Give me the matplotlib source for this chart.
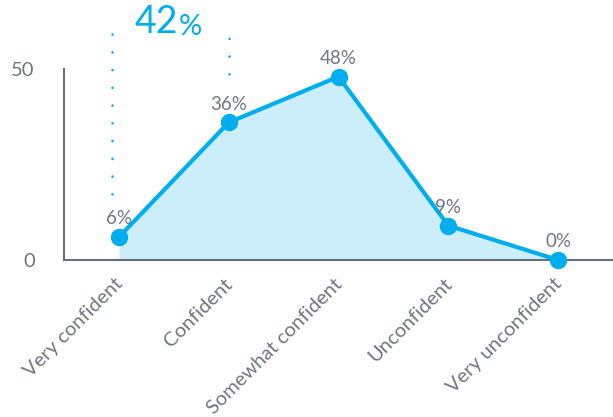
import matplotlib
matplotlib.use("Agg")
import matplotlib.pyplot as plt
import matplotlib.transforms as mtransforms

plt.rcParams['font.family'] = ['Lato', 'DejaVu Sans']

categories = ["Very confident", "Confident", "Somewhat confident", "Unconfident", "Very unconfident"]
values = [6, 36, 48, 9, 0]
total_top_two = values[0] + values[1]

blue = "#00aeef"
fill_blue = "#cbeefa"
gray_text = "#6f7682"
axis_gray = "#6b717b"

fig = plt.figure(figsize=(6.13, 4.17), dpi=100)
ax = fig.add_axes([64 / 613, 1 - 260 / 417, 1 - 64 / 613, (260 - 69) / 417])

x = list(range(len(categories)))
ax.fill_between(x, values, 0, color=fill_blue, linewidth=0, zorder=1)
ax.plot(x, values, color=blue, linewidth=3, marker='o', markersize=11.5,
        zorder=3, clip_on=False, solid_capstyle='round')

for xi, v in zip(x, values):
    ax.annotate(f"{v}%", (xi, v), xytext=(0, 7), textcoords='offset points',
                ha='center', va='bottom', fontsize=13.5, color=gray_text, zorder=4)

# bracket for the top two answers
dots = (0, (0.1, 7))
ax.plot([-0.066, -0.066], [17.3, 61], color=blue, linewidth=1.8,
        linestyle=dots, dash_capstyle='round', clip_on=False)
ax.plot([1, 1], [48.7, 62], color=blue, linewidth=1.8,
        linestyle=dots, dash_capstyle='round', clip_on=False)
t = ax.text(0.536, 59.5, f"{total_top_two}", ha='right', va='baseline', fontsize=27,
            color=blue, clip_on=False)
ax.annotate("%", xy=(1, 0), xycoords=t, xytext=(1, 0), textcoords='offset points',
            ha='left', va='bottom', fontsize=21, color=blue)

ax.set_xlim(-0.5, 4.5)
ax.set_ylim(0, 50)
ax.set_yticks([0, 50])
ax.set_yticklabels(["0", "50"])
ax.set_xticks(x)
ax.set_xticklabels(categories, rotation=45, ha='right', va='top',
                   rotation_mode='anchor', fontsize=14.5, color=gray_text)
ax.tick_params(axis='y', length=0, pad=21, labelsize=14.5, labelcolor=gray_text)
ax.tick_params(axis='x', length=0, pad=11)

shift = mtransforms.ScaledTranslation(-5 / 100, 0, fig.dpi_scale_trans)
for lbl in ax.get_xticklabels():
    lbl.set_transform(lbl.get_transform() + shift)

for side in ['top', 'right']:
    ax.spines[side].set_visible(False)
ax.spines['left'].set_color(axis_gray)
ax.spines['bottom'].set_color(axis_gray)
ax.spines['left'].set_linewidth(1.5)
ax.spines['bottom'].set_linewidth(1.5)

fig.savefig("out.png", dpi=100)
